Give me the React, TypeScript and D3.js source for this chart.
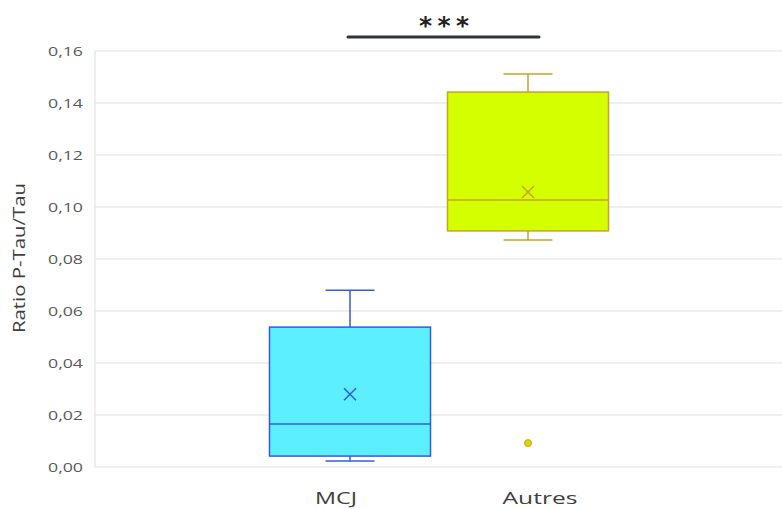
import React from "react";
import * as d3 from "d3";

const categories = ["MCJ", "Autres"];
const whiskerLow = [0.0023, 0.0873];
const q1 = [0.0042, 0.0908];
const median = [0.0165, 0.1027];
const q3 = [0.0538, 0.1442];
const whiskerHigh = [0.068, 0.1512];
const means = [0.028, 0.1058];
const outliers = [[], [0.0092]];
const yTicks = [0, 0.02, 0.04, 0.06, 0.08, 0.1, 0.12, 0.14, 0.16];
const fills = ["#5CEFFF", "#D4FF00"];
const strokes = ["#3558E6", "#C9A227"];
const significance = "***";

const W = 782, H = 509;
const left = 95, right = 782, top = 51, bottom = 467;

export default function App() {
  const y = d3.scaleLinear().domain([0, 0.16]).range([bottom, top]);
  const x = d3.scalePoint<string>().domain(categories).range([350, 528]);
  const boxW = 161;
  const capW = 49;
  const labelOffsets = [-14, 12];
  const labelLengths = [42, 75];
  const fmt = (v: number) => v.toFixed(2).replace(".", ",");
  const font = "'Open Sans', 'Liberation Sans', sans-serif";
  return (
    <svg width={W} height={H} style={{ position: "absolute", left: 0, top: 0, background: "#fff" }}>
      {yTicks.map((t) => (
        <g key={t}>
          <line x1={left} x2={right} y1={y(t)} y2={y(t)} stroke="#DCDFE0" strokeWidth={1} />
          <text x={83} y={y(t)} dy="0.36em" textAnchor="end" fontSize={13.5} fill="#595959" fontFamily={font} textLength={35} lengthAdjust="spacingAndGlyphs">
            {fmt(t)}
          </text>
        </g>
      ))}
      <line x1={left} x2={left} y1={top} y2={bottom} stroke="#DCDFE0" strokeWidth={1} />
      <text
        transform={`translate(25,${(183 + 333) / 2}) rotate(-90)`}
        textAnchor="middle"
        fontSize={16.5}
        fill="#404040"
        fontFamily={font}
        textLength={150}
        lengthAdjust="spacingAndGlyphs"
      >
        Ratio P-Tau/Tau
      </text>
      {categories.map((c, i) => {
        const cx = x(c)!;
        return (
          <g key={c}>
            <line x1={cx} x2={cx} y1={y(whiskerHigh[i])} y2={y(q3[i])} stroke={strokes[i]} strokeWidth={1.5} />
            <line x1={cx} x2={cx} y1={y(q1[i])} y2={y(whiskerLow[i])} stroke={strokes[i]} strokeWidth={1.5} />
            <line x1={cx - capW / 2} x2={cx + capW / 2} y1={y(whiskerHigh[i])} y2={y(whiskerHigh[i])} stroke={strokes[i]} strokeWidth={1.5} />
            <line x1={cx - capW / 2} x2={cx + capW / 2} y1={y(whiskerLow[i])} y2={y(whiskerLow[i])} stroke={strokes[i]} strokeWidth={1.5} />
            <rect
              x={cx - boxW / 2}
              y={y(q3[i])}
              width={boxW}
              height={y(q1[i]) - y(q3[i])}
              fill={fills[i]}
              stroke={strokes[i]}
              strokeWidth={1.5}
            />
            <line x1={cx - boxW / 2} x2={cx + boxW / 2} y1={y(median[i])} y2={y(median[i])} stroke={strokes[i]} strokeWidth={1.5} />
            <path
              d={`M${cx - 6},${y(means[i]) - 6}L${cx + 6},${y(means[i]) + 6}M${cx + 6},${y(means[i]) - 6}L${cx - 6},${y(means[i]) + 6}`}
              stroke={strokes[i]}
              strokeWidth={1.5}
            />
            {outliers[i].map((o, j) => (
              <circle key={j} cx={cx} cy={y(o)} r={3.5} fill="#D8D800" stroke={strokes[i]} strokeWidth={1} />
            ))}
            <text x={cx + labelOffsets[i]} y={504} textAnchor="middle" fontSize={17} fill="#404040" fontFamily={font} textLength={labelLengths[i]} lengthAdjust="spacingAndGlyphs">
              {c}
            </text>
          </g>
        );
      })}
      <line x1={348} x2={539} y1={37} y2={37} stroke="#2F3436" strokeWidth={3} strokeLinecap="round" />
      <text x={444} y={34} textAnchor="middle" fontSize={25} fontWeight="bold" fill="#222" fontFamily="'DejaVu Sans', sans-serif" textLength={50} lengthAdjust="spacing">
        {significance}
      </text>
    </svg>
  );
}
